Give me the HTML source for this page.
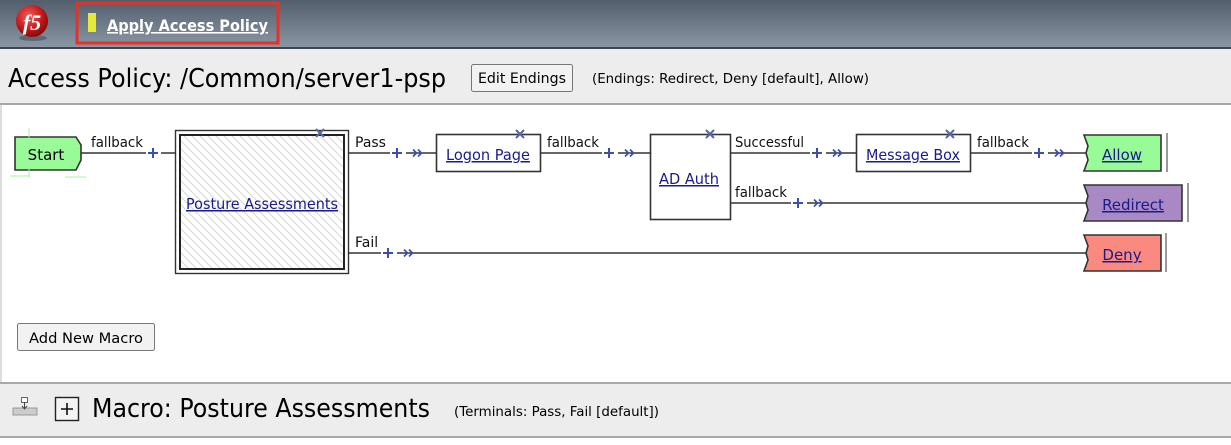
<!DOCTYPE html>
<html><head><meta charset="utf-8"><style>
html,body{margin:0;padding:0;width:1231px;height:445px;overflow:hidden;background:#fff;font-family:"DejaVu Sans","Liberation Sans",sans-serif}
</style></head><body>
<svg width="1231" height="445" viewBox="0 0 1231 445" xmlns="http://www.w3.org/2000/svg" font-family="DejaVu Sans, Liberation Sans, sans-serif">
<defs>
<linearGradient id="hg" x1="0" y1="0" x2="0" y2="1">
<stop offset="0" stop-color="#525e6c"/><stop offset="1" stop-color="#8a96a4"/>
</linearGradient>
<radialGradient id="rg" cx="0.4" cy="0.35" r="0.7">
<stop offset="0" stop-color="#f06060"/><stop offset="0.6" stop-color="#c41818"/><stop offset="1" stop-color="#7a0808"/>
</radialGradient>
<pattern id="hatch" width="8" height="8" patternUnits="userSpaceOnUse">
<rect width="8" height="8" fill="#fff"/>
<path d="M-2,-2 L10,10 M-2,6 L2,10 M6,-2 L10,2" stroke="#dcdcdc" stroke-width="1.2"/>
</pattern>
<g id="pc">
<path d="M-5,0 H5 M0,-5 V5" stroke="#3a4fb0" stroke-width="2"/>
<path d="M16,-3.5 l3.5,3.5 l-3.5,3.5 M21,-3.5 l3.5,3.5 l-3.5,3.5" stroke="#3a4fb0" stroke-width="1.7" fill="none"/>
</g>
<g id="p1"><path d="M-5,0 H5 M0,-5 V5" stroke="#3a4fb0" stroke-width="2"/></g>
<g id="xx"><path d="M-4,-4 L4,4 M4,-4 L-4,4" stroke="#5566aa" stroke-width="2"/></g>
</defs>
<!-- header -->
<rect x="0" y="0" width="1231" height="47" fill="url(#hg)"/>
<rect x="0" y="47" width="1231" height="2" fill="#3c4652"/>
<ellipse cx="33" cy="38" rx="14" ry="3" fill="#3a4350" opacity="0.5"/>
<circle cx="32" cy="21" r="16" fill="url(#rg)"/>
<text x="32" y="30" font-size="22" font-weight="bold" fill="#fff" text-anchor="middle" font-family="Liberation Serif, serif" font-style="italic">f5</text>
<rect x="77" y="3" width="201" height="40" fill="none" stroke="#e53226" stroke-width="3"/>
<rect x="88" y="13" width="8" height="19" fill="#e5ea3a"/>
<text x="107" y="31" font-size="16" font-weight="bold" fill="#fff" text-decoration="underline" textLength="161" lengthAdjust="spacingAndGlyphs">Apply Access Policy</text>
<!-- title bar -->
<rect x="0" y="49" width="1231" height="55" fill="#ededed"/>
<rect x="0" y="103" width="1231" height="2" fill="#a8a8a8"/>
<text x="8" y="87" font-size="26" fill="#000" textLength="438" lengthAdjust="spacingAndGlyphs">Access Policy: /Common/server1-psp</text>
<rect x="471.5" y="64.5" width="101" height="27" rx="2" fill="#f2f2f2" stroke="#777"/>
<text x="522" y="83" font-size="14" text-anchor="middle" textLength="88" lengthAdjust="spacingAndGlyphs">Edit Endings</text>
<text x="592" y="83" font-size="13" textLength="277" lengthAdjust="spacingAndGlyphs">(Endings: Redirect, Deny [default], Allow)</text>
<rect x="0" y="105" width="2" height="278" fill="#ddd"/>
<!-- connectors -->
<g stroke="#333" stroke-width="1.6">
<line x1="80" y1="153" x2="175" y2="153"/>
<line x1="349" y1="153" x2="436" y2="153"/>
<line x1="541" y1="153" x2="650" y2="153"/>
<line x1="731" y1="153" x2="856" y2="153"/>
<line x1="971" y1="153" x2="1087" y2="153"/>
<line x1="731" y1="203" x2="1087" y2="203"/>
<line x1="349" y1="253" x2="1087" y2="253"/>
</g>
<g fill="#fff">
<rect x="146" y="148" width="15" height="10"/>
<rect x="390" y="148" width="16" height="10"/>
<rect x="602" y="148" width="16" height="10"/>
<rect x="810" y="148" width="16" height="10"/>
<rect x="1032" y="148" width="16" height="10"/>
<rect x="791" y="198" width="16" height="10"/>
<rect x="381" y="248" width="16" height="10"/>
</g>
<use href="#p1" x="153" y="153"/>
<use href="#pc" x="397" y="153"/>
<use href="#pc" x="609" y="153"/>
<use href="#pc" x="817" y="153"/>
<use href="#pc" x="1039" y="153"/>
<use href="#pc" x="798" y="203"/>
<use href="#pc" x="388" y="253"/>
<g font-size="14" fill="#111">
<text x="91" y="147" textLength="52" lengthAdjust="spacingAndGlyphs">fallback</text>
<text x="355" y="147">Pass</text>
<text x="547" y="147" textLength="52" lengthAdjust="spacingAndGlyphs">fallback</text>
<text x="735" y="147" textLength="69" lengthAdjust="spacingAndGlyphs">Successful</text>
<text x="977" y="147" textLength="52" lengthAdjust="spacingAndGlyphs">fallback</text>
<text x="735" y="197" textLength="52" lengthAdjust="spacingAndGlyphs">fallback</text>
<text x="355" y="247">Fail</text>
</g>
<!-- Start -->
<path d="M15,137 H76 L81,145 V160 L76,170 H15 Z" fill="#98fb98" stroke="#333" stroke-width="1.6"/>
<line x1="29" y1="128" x2="29" y2="177" stroke="#a8f0a8"/>
<line x1="10" y1="176" x2="30" y2="176" stroke="#a8f0a8"/>
<line x1="65" y1="177" x2="86" y2="177" stroke="#a8f0a8"/>
<text x="46" y="160" font-size="15" text-anchor="middle">Start</text>
<!-- Posture -->
<rect x="175.5" y="130.5" width="173" height="143" fill="#fff" stroke="#333" stroke-width="1.4"/>
<rect x="180" y="135" width="164" height="134" fill="url(#hatch)" stroke="#222" stroke-width="2"/>
<use href="#xx" x="320" y="133"/>
<text x="262" y="209" font-size="15" fill="#1a1a8c" text-anchor="middle" text-decoration="underline" textLength="152" lengthAdjust="spacingAndGlyphs">Posture Assessments</text>
<!-- Logon page -->
<rect x="436.5" y="134.5" width="104" height="37" fill="#fff" stroke="#333" stroke-width="1.6"/>
<use href="#xx" x="520" y="134"/>
<text x="488" y="160" font-size="15" fill="#1a1a8c" text-anchor="middle" text-decoration="underline" textLength="84" lengthAdjust="spacingAndGlyphs">Logon Page</text>
<!-- AD Auth -->
<rect x="650.5" y="134.5" width="80" height="85" fill="#fff" stroke="#333" stroke-width="1.6"/>
<use href="#xx" x="710" y="134"/>
<text x="689" y="184" font-size="15" fill="#1a1a8c" text-anchor="middle" text-decoration="underline" textLength="60" lengthAdjust="spacingAndGlyphs">AD Auth</text>
<!-- Message Box -->
<rect x="856.5" y="134.5" width="114" height="37" fill="#fff" stroke="#333" stroke-width="1.6"/>
<use href="#xx" x="950" y="134"/>
<text x="913" y="160" font-size="15" fill="#1a1a8c" text-anchor="middle" text-decoration="underline" textLength="94" lengthAdjust="spacingAndGlyphs">Message Box</text>
<!-- endings -->
<path d="M1084,135 H1161 V171 H1084 L1088,160 L1086,153 L1088,146 Z" fill="#98fb98" stroke="#333" stroke-width="1.6"/>
<line x1="1167" y1="133" x2="1167" y2="172" stroke="#333"/>
<text x="1122" y="160" font-size="15" fill="#1a1a8c" text-anchor="middle" text-decoration="underline">Allow</text>
<path d="M1084,185 H1182 V221 H1084 L1088,210 L1086,203 L1088,196 Z" fill="#a989c3" stroke="#333" stroke-width="1.6"/>
<line x1="1188" y1="183" x2="1188" y2="222" stroke="#333"/>
<text x="1133" y="210" font-size="15" fill="#1a1a8c" text-anchor="middle" text-decoration="underline">Redirect</text>
<path d="M1084,235 H1161 V271 H1084 L1088,260 L1086,253 L1088,246 Z" fill="#fa8a80" stroke="#333" stroke-width="1.6"/>
<line x1="1166" y1="233" x2="1166" y2="272" stroke="#333"/>
<text x="1122" y="260" font-size="15" fill="#1a1a8c" text-anchor="middle" text-decoration="underline">Deny</text>
<!-- Add macro -->
<rect x="17.5" y="323.5" width="137" height="27" rx="2" fill="#f2f2f2" stroke="#777"/>
<text x="86" y="343" font-size="14" text-anchor="middle" textLength="114" lengthAdjust="spacingAndGlyphs">Add New Macro</text>
<!-- macro bar -->
<rect x="0" y="382" width="1231" height="2" fill="#a8a8a8"/>
<rect x="0" y="384" width="1231" height="53" fill="#ededed"/>
<rect x="0" y="436" width="1231" height="2" fill="#a8a8a8"/>
<rect x="0" y="438" width="1231" height="7" fill="#fff"/>
<rect x="13" y="408" width="24" height="7" fill="#ccc" stroke="#999"/>
<rect x="21.5" y="397.5" width="6" height="5" fill="#fff" stroke="#666"/>
<path d="M24.5,402 V409 M22,406 l2.5,3 l2.5,-3" stroke="#444" fill="none"/>
<rect x="55.5" y="397.5" width="23" height="23" fill="#f4f4f4" stroke="#222" stroke-width="1.4"/>
<path d="M61,409 H73 M67,403 V415" stroke="#111" stroke-width="1.6"/>
<text x="92" y="417" font-size="26" textLength="338" lengthAdjust="spacingAndGlyphs">Macro: Posture Assessments</text>
<text x="454" y="416" font-size="13" textLength="205" lengthAdjust="spacingAndGlyphs">(Terminals: Pass, Fail [default])</text>
</svg>
</body></html>
